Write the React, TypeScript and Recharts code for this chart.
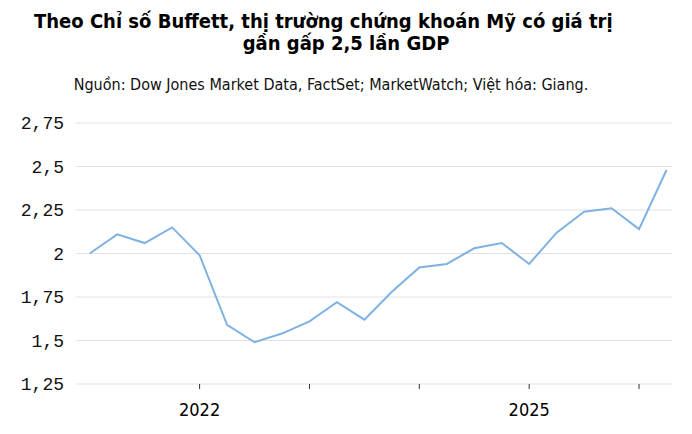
import React from "react";
import { LineChart, Line, XAxis, YAxis, CartesianGrid } from "recharts";

// Quarterly Buffett indicator (market cap / GDP)
const quarters = [
  "Q1 2021", "Q2 2021", "Q3 2021", "Q4 2021",
  "Q1 2022", "Q2 2022", "Q3 2022", "Q4 2022",
  "Q1 2023", "Q2 2023", "Q3 2023", "Q4 2023",
  "Q1 2024", "Q2 2024", "Q3 2024", "Q4 2024",
  "Q1 2025", "Q2 2025", "Q3 2025", "Q4 2025",
  "Q1 2026", "Q2 2026",
];
const ratio = [
  2.0, 2.11, 2.06, 2.15,
  1.99, 1.59, 1.49, 1.54,
  1.61, 1.72, 1.62, 1.78,
  1.92, 1.94, 2.03, 2.06,
  1.94, 2.12, 2.24, 2.26,
  2.14, 2.48,
];

const yTicks = [1.25, 1.5, 1.75, 2, 2.25, 2.5, 2.75];
// year tick marks sit on the first quarter of each year; only some are labelled
const tickQuarters = ["Q1 2022", "Q1 2023", "Q1 2024", "Q1 2025", "Q1 2026"];
const labelledYears = ["2022", "2025"];

const data = quarters.map((q, i) => ({ idx: i, quarter: q, ratio: ratio[i] }));
const xTicks = tickQuarters.map((q) => quarters.indexOf(q));

const formatY = (v: number) => String(v).replace(".", ",");
const formatX = (i: number) => {
  const year = quarters[i]?.split(" ")[1] ?? "";
  return labelledYears.includes(year) ? year : "";
};

const headFont = "'DejaVu Sans Condensed', 'DejaVu Sans', sans-serif";

export default function App() {
  return (
    <div style={{ position: "relative", width: 692, height: 434, background: "#fff" }}>
      <style>{`body{margin:0}`}</style>
      <div
        style={{
          position: "absolute",
          left: 0,
          top: 10,
          width: 692,
          fontFamily: headFont,
          fontStretch: "condensed",
          fontWeight: 700,
          fontSize: 20,
          lineHeight: "22px",
          color: "#000",
        }}
      >
        <div style={{ position: "absolute", left: 34, top: 0, whiteSpace: "nowrap" }}>
          Theo Chỉ số Buffett, thị trường chứng khoán Mỹ có giá trị
        </div>
        <div style={{ position: "absolute", left: 0, top: 22, width: 692, textAlign: "center" }}>
          gần gấp 2,5 lần GDP
        </div>
      </div>
      <div
        style={{
          position: "absolute",
          left: 0,
          top: 75,
          width: 662,
          textAlign: "center",
          fontFamily: headFont,
          fontStretch: "condensed",
          fontSize: 16,
          color: "#111",
          whiteSpace: "nowrap",
        }}
      >
        Nguồn: Dow Jones Market Data, FactSet; MarketWatch; Việt hóa: Giang.
      </div>
      <LineChart
        width={692}
        height={434}
        data={data}
        margin={{ top: 123, right: 20, bottom: 20, left: 0 }}
      >
        <CartesianGrid vertical={false} stroke="#e2e2e2" strokeWidth={1} />
        <XAxis
          type="number"
          dataKey="idx"
          domain={[-0.5, 21.2]}
          ticks={xTicks}
          tickFormatter={formatX}
          axisLine={false}
          tickLine={{ stroke: "#333" }}
          tickSize={5}
          tickMargin={14}
          height={30}
          tick={{ fill: "#000", fontSize: 18, fontFamily: headFont, fontStretch: "condensed" }}
          interval={0}
        />
        <YAxis
          domain={[1.25, 2.75]}
          ticks={yTicks}
          tickFormatter={formatY}
          axisLine={false}
          tickLine={false}
          tickSize={6}
          tickMargin={6}
          width={76}
          tick={{ fill: "#111", fontSize: 18, fontFamily: "'Liberation Mono', monospace" }}
          interval={0}
        />
        <Line
          type="linear"
          dataKey="ratio"
          stroke="#7fb2e3"
          strokeWidth={2}
          dot={false}
          isAnimationActive={false}
        />
      </LineChart>
    </div>
  );
}
